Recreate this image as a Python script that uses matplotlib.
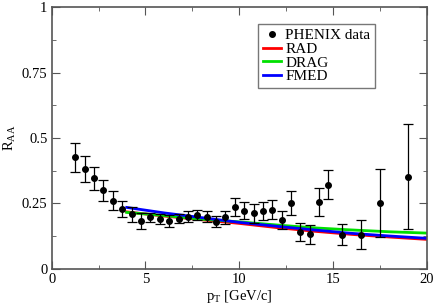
import numpy as np
import matplotlib
matplotlib.use('Agg')
import matplotlib.pyplot as plt
from matplotlib.ticker import MultipleLocator
from matplotlib.lines import Line2D

plt.rcParams['font.family'] = 'Liberation Serif'
plt.rcParams['mathtext.fontset'] = 'custom'
plt.rcParams['mathtext.rm'] = 'Liberation Serif'
plt.rcParams['mathtext.it'] = 'Liberation Serif:italic'

# PHENIX data points
pt = [1.26, 1.76, 2.26, 2.76, 3.25, 3.77, 4.27, 4.76, 5.26, 5.76, 6.28, 6.77,
      7.27, 7.77, 8.27, 8.76, 9.26, 9.76, 10.28, 10.77, 11.27, 11.77, 12.27,
      12.76, 13.26, 13.76, 14.26, 14.76, 15.5, 16.5, 17.51, 19.02]
raa = [0.426, 0.381, 0.346, 0.301, 0.261, 0.230, 0.208, 0.183, 0.198, 0.190,
       0.183, 0.192, 0.200, 0.206, 0.200, 0.181, 0.197, 0.236, 0.222, 0.212,
       0.222, 0.227, 0.187, 0.251, 0.141, 0.132, 0.256, 0.321, 0.131, 0.131,
       0.251, 0.352]
err = [0.055, 0.050, 0.045, 0.040, 0.035, 0.030, 0.028, 0.030, 0.017, 0.020,
       0.023, 0.018, 0.020, 0.020, 0.020, 0.020, 0.025, 0.035, 0.033, 0.036,
       0.034, 0.038, 0.036, 0.046, 0.033, 0.035, 0.055, 0.055, 0.039, 0.055,
       0.130, 0.200]

# model curves
pt_model = [4, 6, 8, 10, 12, 14, 16, 18, 20]
rad = [0.218, 0.202, 0.188, 0.174, 0.158, 0.144, 0.132, 0.122, 0.113]
drag = [0.216, 0.204, 0.190, 0.180, 0.168, 0.157, 0.149, 0.142, 0.137]
fmed = [0.235, 0.214, 0.196, 0.178, 0.163, 0.149, 0.136, 0.126, 0.117]

fig = plt.figure(figsize=(4.36, 3.06), dpi=100)
ax = fig.add_axes([0.1186, 0.121, 0.86, 0.856])

ax.errorbar(pt, raa, yerr=err, fmt='o', color='black', ms=4, elinewidth=0.9,
            capsize=3.5, capthick=0.9, zorder=3)
l1, = ax.plot(pt_model, rad, color='#ff0000', lw=2)
l2, = ax.plot(pt_model, drag, color='#00e000', lw=2)
l3, = ax.plot(pt_model, fmed, color='#0000ff', lw=2)
dot = Line2D([], [], ls='none', marker='o', ms=4, color='black')

ax.set_xlim(0, 20)
ax.set_ylim(0, 1)
ax.xaxis.set_major_locator(MultipleLocator(5))
ax.xaxis.set_minor_locator(MultipleLocator(2.5))
ax.yaxis.set_minor_locator(MultipleLocator(0.125))
ax.set_yticks([0, 0.25, 0.5, 0.75, 1])
ax.set_yticklabels(['0', '0.25', '0.5', '0.75', '1'])
ax.tick_params(which='both', direction='in', top=True, right=True,
               labelsize=10.5, color='#555555')
ax.tick_params(which='major', length=6, pad=3)
ax.tick_params(which='minor', length=3)
for s in ax.spines.values():
    s.set_color('#555555')
    s.set_linewidth(1.2)

ax.set_xlabel(r'$\mathrm{p_T}$ [GeV/c]', fontsize=10.5, labelpad=1)
ax.set_ylabel(r'$\mathrm{R_{AA}}$', fontsize=10.5, labelpad=3)

leg = ax.legend([dot, l1, l2, l3], ['PHENIX data', 'RAD', 'DRAG', 'FMED'],
                loc='upper left', bbox_to_anchor=(0.55, 0.935), fontsize=11,
                frameon=True, fancybox=False, edgecolor='#555555',
                handlelength=1.2, handletextpad=0.3, borderpad=0.3,
                labelspacing=0.0, borderaxespad=0)
leg.get_frame().set_linewidth(1.0)

fig.savefig('out.png', dpi=100)
